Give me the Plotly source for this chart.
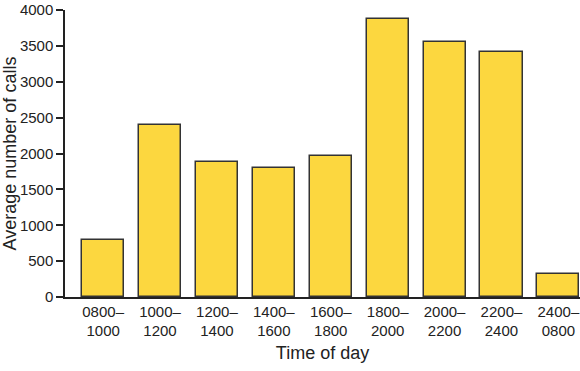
import plotly.graph_objects as go

categories = ["0800–<br>1000", "1000–<br>1200", "1200–<br>1400", "1400–<br>1600",
              "1600–<br>1800", "1800–<br>2000", "2000–<br>2200", "2200–<br>2400",
              "2400–<br>0800"]
calls = [800, 2400, 1880, 1800, 1960, 3870, 3560, 3410, 320]
y_ticks = [0, 500, 1000, 1500, 2000, 2500, 3000, 3500, 4000]

fig = go.Figure(go.Bar(
    x=list(range(len(categories))), y=calls,
    marker=dict(color="#FCD73F", line=dict(color="#333333", width=1.5)),
    width=0.74,
))

font = dict(family="Liberation Sans, Arial, sans-serif", size=15, color="#222222")
fig.update_layout(
    width=580, height=371,
    margin=dict(l=65, r=0, t=10, b=74),
    paper_bgcolor="white", plot_bgcolor="white",
    font=font, showlegend=False, bargap=0,
    xaxis=dict(
        tickmode="array", tickvals=list(range(len(categories))), ticktext=categories,
        range=[-0.67, 8.38], showline=True, linecolor="#222222", linewidth=1.5,
        ticks="", showgrid=False, zeroline=False, automargin=False,
        title=dict(text="Time of day", standoff=8),
    ),
    yaxis=dict(
        range=[0, 4000], tickvals=y_ticks, showline=True, linecolor="#222222",
        linewidth=1.5, ticks="outside", ticklen=7, tickcolor="#222222", tickwidth=1.5,
        showgrid=False, zeroline=False, automargin=False,
        title=dict(text="Average number of calls", standoff=6),
    ),
)

fig.write_html("out.html", config={"displayModeBar": False},
               post_script="document.body.style.margin='0px';")
